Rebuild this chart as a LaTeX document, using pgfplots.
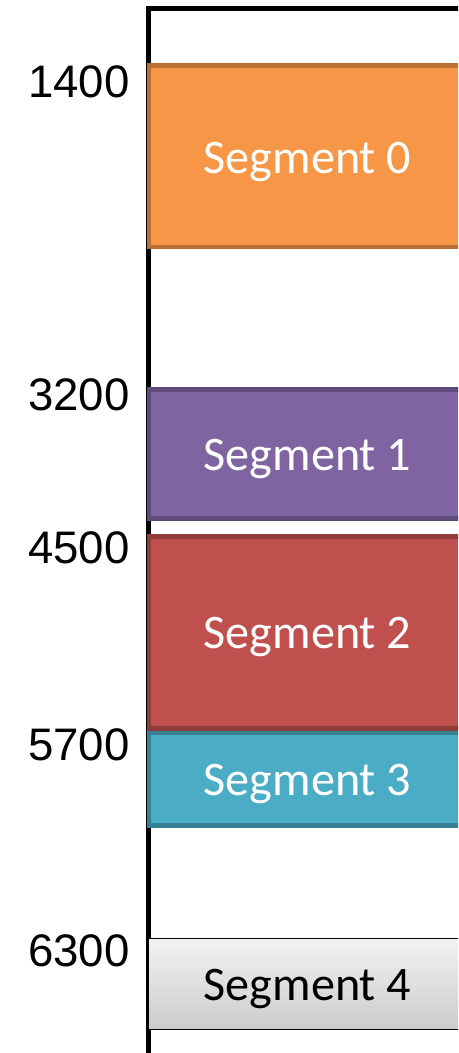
\documentclass[border=0pt]{standalone}
\usepackage{pgfplots}
\pgfplotsset{compat=1.18}
\usepackage{fontspec}
\setmainfont{Liberation Sans}
\newfontfamily\carlito{Carlito}
\definecolor{c0}{HTML}{F79646}\definecolor{b0}{HTML}{B97034}
\definecolor{c1}{HTML}{8064A2}\definecolor{b1}{HTML}{604B7A}
\definecolor{c2}{HTML}{C0504D}\definecolor{b2}{HTML}{903C3A}
\definecolor{c3}{HTML}{4BACC6}\definecolor{b3}{HTML}{388194}
\begin{document}
\begin{tikzpicture}
\begin{axis}[
  name=mainaxis,
  scale only axis, width=229pt, height=526.5pt,
  xmin=0, xmax=458, ymin=0, ymax=1053, y dir=reverse,
  hide axis, clip=true,
]
% axis frame (left and top)
\addplot[black, line width=2.25pt, line join=miter] coordinates {(480,8.3) (148.5,8.3) (148.5,1070)};
% Segment 0
\addplot[draw=b0, fill=c0, line width=2.2pt] coordinates {(480,65.5) (149,65.5) (149,247) (480,247)};
% Segment 1
\addplot[draw=b1, fill=c1, line width=2.2pt] coordinates {(480,389.5) (149,389.5) (149,518.5) (480,518.5)};
% Segment 2
\addplot[draw=b2, fill=c2, line width=2.2pt] coordinates {(480,536.5) (149,536.5) (149,728.5) (480,728.5)};
% Segment 3
\addplot[draw=b3, fill=c3, line width=2.2pt] coordinates {(480,733) (149,733) (149,825.5) (480,825.5)};
% Segment 4
\addplot[draw=black, top color=black!5, bottom color=black!20, line width=0.8pt] coordinates {(480,938.5) (148.5,938.5) (148.5,1029.5) (480,1029.5)};
% address labels
\begin{scope}[every node/.style={anchor=base east, inner sep=0pt, font=\fontsize{22.8}{27}\selectfont}]
\node at (axis cs:130,97.3) {1400};
\node at (axis cs:130,410) {3200};
\node at (axis cs:130,563) {4500};
\node at (axis cs:130,760) {5700};
\node at (axis cs:130,966.5) {6300};
\end{scope}
% segment names
\begin{scope}[every node/.style={anchor=base, inner sep=0pt, font=\carlito\fontsize{24.1}{28}\selectfont}]
\node[white] at (axis cs:307.5,173.3) {Segment 0};
\node[white] at (axis cs:307.5,470) {Segment 1};
\node[white] at (axis cs:307.5,648.3) {Segment 2};
\node[white] at (axis cs:307.5,795) {Segment 3};
\node[black] at (axis cs:307.5,1000) {Segment 4};
\end{scope}
\end{axis}
\pgfresetboundingbox
\path[use as bounding box] (mainaxis.south west) rectangle (mainaxis.north east);
\end{tikzpicture}
\end{document}
